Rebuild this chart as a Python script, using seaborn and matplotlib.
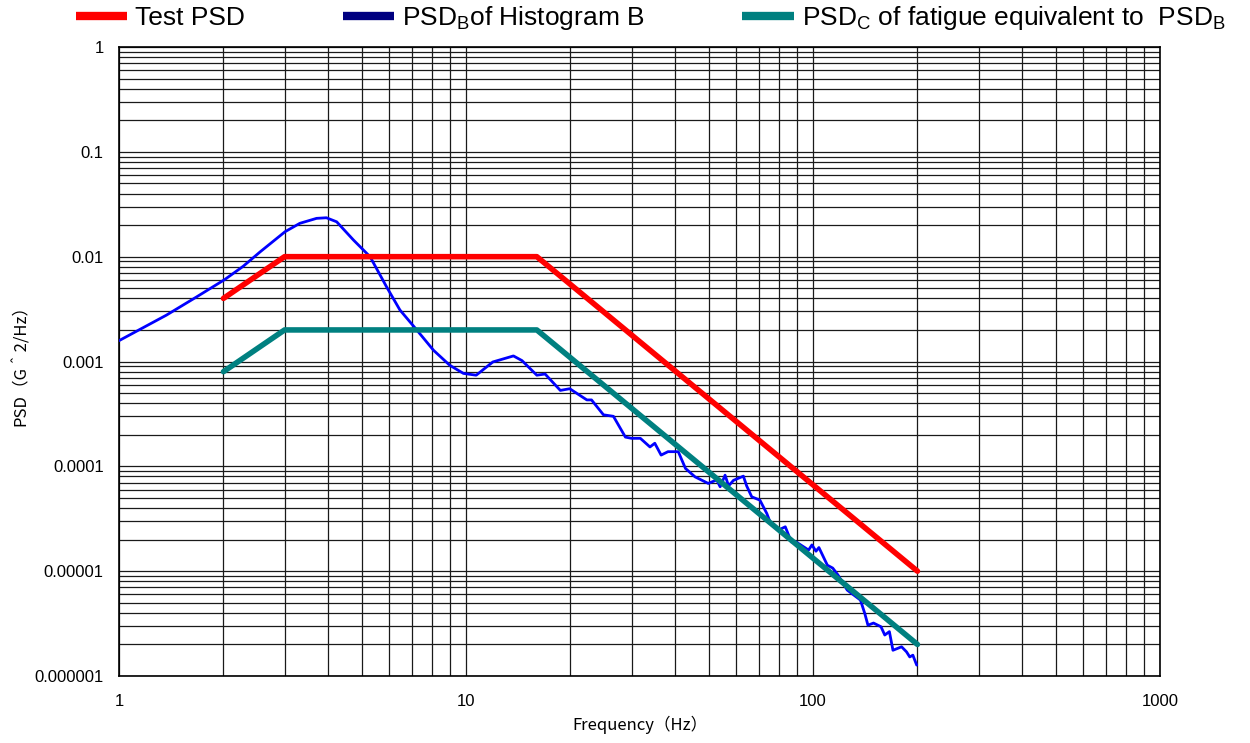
import numpy as np
import pandas as pd
import matplotlib
matplotlib.use("Agg")
import matplotlib.pyplot as plt
from matplotlib.lines import Line2D
from matplotlib.ticker import FixedLocator, FixedFormatter, LogLocator, NullFormatter
import seaborn as sns

# Test PSD profile (breakpoints)
test_freq = [2, 3, 16, 200]
test_psd = [0.004, 0.01, 0.01, 0.00001]

# Fatigue-equivalent PSD_C profile
equiv_freq = [2, 3, 16, 200]
equiv_psd = [0.0008, 0.002, 0.002, 0.000002]

# Measured PSD_B of histogram B
hist_freq = [1.0, 1.37, 1.675, 2.02, 2.28, 2.55, 3.01, 3.32, 3.71, 3.96, 4.24, 4.74,
             5.29, 5.9, 6.45, 7.15, 8.06, 8.98, 9.83, 10.7, 11.95, 13.7, 14.5, 16.0,
             16.9, 18.7, 19.9, 22.3, 23.0, 24.9, 26.6, 28.8, 30.0, 31.8, 33.9, 35.0,
             36.5, 38.2, 40.9, 42.9, 45.7, 49.9, 52.8, 54.0, 55.8, 57.1, 59.0, 63.0,
             64.4, 66.6, 70.3, 73.6, 75.2, 79.4, 83.2, 86.6, 89.4, 97.1, 99.3, 102,
             104, 110, 114, 118, 125.5, 137, 141, 144, 149.4, 157, 161, 166, 170,
             180, 186, 190, 194, 199]
hist_psd = [0.00158, 0.00277, 0.00414, 0.00607, 0.0081, 0.0111, 0.0173, 0.0208, 0.0232,
            0.0235, 0.0215, 0.0144, 0.0100, 0.00517, 0.0031, 0.00207, 0.00128, 0.00092,
            0.00077, 0.00074, 0.00099, 0.00113, 0.00102, 0.00074, 0.00076, 0.00053,
            0.00055, 0.00043, 0.00043, 0.00031, 0.00030, 0.00019, 0.000185, 0.000185,
            0.000153, 0.000166, 0.000128, 0.000138, 0.000138, 0.0000955, 0.0000794,
            0.0000687, 0.0000742, 0.0000638, 0.0000824, 0.000065, 0.0000735, 0.0000806,
            0.000065, 0.0000512, 0.0000476, 0.0000355, 0.0000295, 0.0000246, 0.0000265,
            0.000019, 0.000019, 0.0000159, 0.0000178, 0.0000155, 0.0000168, 0.0000114,
            0.0000107, 0.0000092, 0.0000066, 0.0000053, 0.00000395, 0.00000305,
            0.0000032, 0.00000295, 0.00000246, 0.00000265, 0.00000176, 0.0000019,
            0.0000017, 0.00000152, 0.00000158, 0.00000127]

y_ticks = [1, 0.1, 0.01, 0.001, 0.0001, 0.00001, 0.000001]
y_tick_labels = ["1", "0.1", "0.01", "0.001", "0.0001", "0.00001", "0.000001"]
x_ticks = [1, 10, 100, 1000]
x_tick_labels = ["1", "10", "100", "1000"]

legend_labels = ["Test PSD",
                 r"PSD$_\mathregular{B}$of Histogram B",
                 r"PSD$_\mathregular{C}$ of fatigue equivalent to  PSD$_\mathregular{B}$"]

sns.set_theme(style="white")
plt.rcParams["font.family"] = ["Liberation Sans", "DejaVu Sans"]
plt.rcParams["mathtext.fontset"] = "custom"
plt.rcParams["mathtext.rm"] = "Liberation Sans"
plt.rcParams["mathtext.it"] = "Liberation Sans"
plt.rcParams["text.color"] = "black"
plt.rcParams["axes.labelcolor"] = "black"

fig = plt.figure(figsize=(12.5, 7.43), dpi=100)
ax = fig.add_axes([119 / 1250, 1 - 676 / 743, (1160 - 119) / 1250, (676 - 47) / 743])

df_test = pd.DataFrame({"f": test_freq, "psd": test_psd})
df_equiv = pd.DataFrame({"f": equiv_freq, "psd": equiv_psd})
df_hist = pd.DataFrame({"f": hist_freq, "psd": hist_psd})

sns.lineplot(data=df_hist, x="f", y="psd", ax=ax, color="#0000FF", linewidth=2.0,
             sort=False, estimator=None, zorder=3)
sns.lineplot(data=df_test, x="f", y="psd", ax=ax, color="#FF0000", linewidth=4.0,
             sort=False, estimator=None, zorder=4)
sns.lineplot(data=df_equiv, x="f", y="psd", ax=ax, color="#008080", linewidth=4.0,
             sort=False, estimator=None, zorder=4)

ax.set_xscale("log")
ax.set_yscale("log")
ax.set_xlim(1, 1000)
ax.set_ylim(1e-6, 1)

ax.xaxis.set_major_locator(FixedLocator(x_ticks))
ax.xaxis.set_major_formatter(FixedFormatter(x_tick_labels))
ax.yaxis.set_major_locator(FixedLocator(y_ticks))
ax.yaxis.set_major_formatter(FixedFormatter(y_tick_labels))
ax.xaxis.set_minor_locator(LogLocator(base=10, subs=np.arange(2, 10)))
ax.yaxis.set_minor_locator(LogLocator(base=10, subs=np.arange(2, 10), numticks=20))
ax.xaxis.set_minor_formatter(NullFormatter())
ax.yaxis.set_minor_formatter(NullFormatter())

ax.grid(True, which="both", color="#1a1a1a", linewidth=0.9)
ax.tick_params(which="both", length=0)
ax.tick_params(axis="y", pad=11, labelsize=12, colors="black")
ax.tick_params(axis="x", pad=13, labelsize=12, colors="black")
for s in ax.spines.values():
    s.set_color("black")
    s.set_linewidth(1.2)

cjk = ["Noto Sans CJK JP", "DejaVu Sans"]
ax.set_xlabel("Frequency（Hz）", family=cjk, fontsize=12, color="black")
ax.set_ylabel("PSD（G＾2/Hz）", family=cjk, fontsize=12, color="black")
ax.xaxis.set_label_coords(0.5, -(725 - 676) / 629, transform=ax.transAxes)
ax.yaxis.set_label_coords(-(119 - 21) / 1041, 0.5, transform=ax.transAxes)
ax.xaxis.label.set_va("center")
ax.yaxis.label.set_va("center")

handles = [Line2D([], [], color="#FF0000", linewidth=6, solid_capstyle="butt"),
           Line2D([], [], color="#000080", linewidth=6, solid_capstyle="butt"),
           Line2D([], [], color="#008080", linewidth=6, solid_capstyle="butt")]
fig.legend(handles, legend_labels, loc="center left",
           bbox_to_anchor=(76 / 1250, 1 - 18 / 743), ncol=3, frameon=False,
           fontsize=19, handlelength=1.95, handletextpad=0.3, columnspacing=3.7,
           borderpad=0, borderaxespad=0, labelcolor="black")

fig.savefig("out.png", dpi=100, facecolor="white")
